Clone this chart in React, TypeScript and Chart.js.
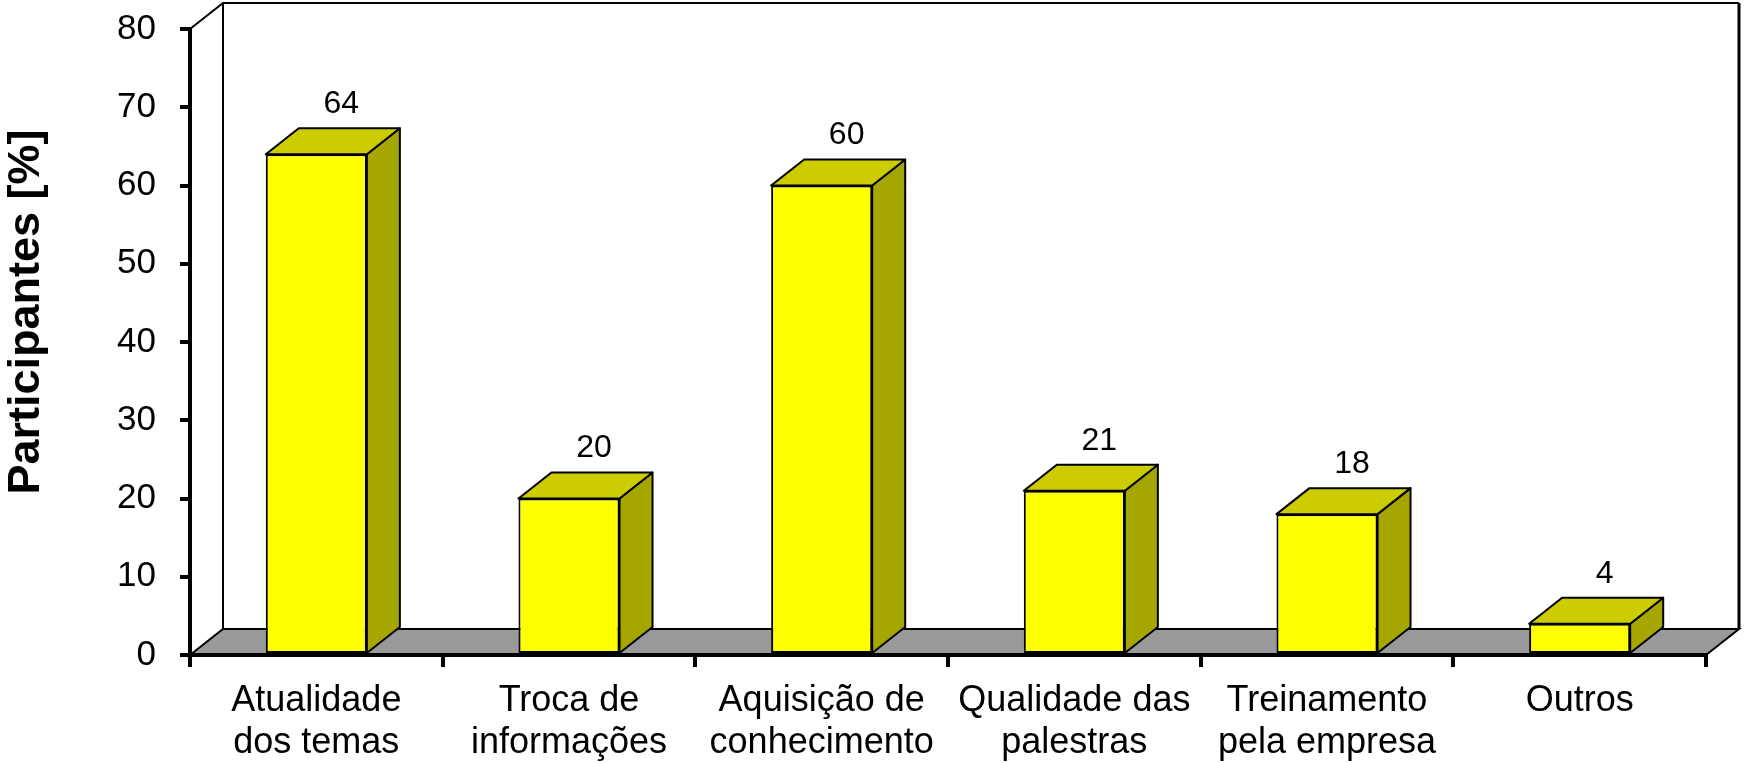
import React, { useEffect, useRef } from 'react';
import { Chart, registerables } from 'chart.js';

Chart.register(...registerables);

// ---- data ----
const categories: string[][] = [
  ['Atualidade', 'dos temas'],
  ['Troca de', 'informações'],
  ['Aquisição de', 'conhecimento'],
  ['Qualidade das', 'palestras'],
  ['Treinamento', 'pela empresa'],
  ['Outros'],
];
const participantes: number[] = [64, 20, 60, 21, 18, 4];
const valueLabels: string[] = ['64', '20', '60', '21', '18', '4'];
const yTitle = 'Participantes [%]';
const yMin = 0;
const yMax = 80;
const yStep = 10;

// ---- style ----
const FONT = "'Liberation Sans', Arial, Helvetica, sans-serif";
const DX = 33;
const DY = -26;
const FRONT = '#FFFF00';
const TOP = '#CCCC00';
const SIDE = '#A6A600';
const FLOOR = '#999999';

const threeD = {
  id: 'threeD',
  beforeDraw(chart: any) {
    const { ctx, chartArea } = chart;
    const { left, right, top, bottom } = chartArea;
    ctx.save();
    ctx.fillStyle = '#ffffff';
    ctx.fillRect(0, 0, chart.width, chart.height);
    // floor
    ctx.beginPath();
    ctx.moveTo(left, bottom);
    ctx.lineTo(left + DX, bottom + DY);
    ctx.lineTo(right + DX, bottom + DY);
    ctx.lineTo(right, bottom);
    ctx.closePath();
    ctx.fillStyle = FLOOR;
    ctx.fill();
    ctx.lineWidth = 2;
    ctx.strokeStyle = '#000';
    ctx.stroke();
    // walls outline
    ctx.lineWidth = 2;
    ctx.beginPath();
    ctx.moveTo(left, top);
    ctx.lineTo(left + DX, top + DY);
    ctx.lineTo(right + DX, top + DY);
    ctx.stroke();
    ctx.beginPath();
    ctx.moveTo(left + DX, top + DY);
    ctx.lineTo(left + DX, bottom + DY);
    ctx.stroke();
    ctx.lineWidth = 3;
    ctx.beginPath();
    ctx.moveTo(right + DX, top + DY);
    ctx.lineTo(right + DX, bottom + DY);
    ctx.stroke();
    ctx.restore();
  },
  afterDatasetsDraw(chart: any) {
    const { ctx } = chart;
    const meta = chart.getDatasetMeta(0);
    ctx.save();
    ctx.lineWidth = 2;
    ctx.strokeStyle = '#000';
    ctx.lineJoin = 'round';
    meta.data.forEach((bar: any, i: number) => {
      const { x, y, base, width } = bar.getProps(['x', 'y', 'base', 'width'], true);
      const l = x - width / 2;
      const r = x + width / 2;
      // side
      ctx.beginPath();
      ctx.moveTo(r, y);
      ctx.lineTo(r + DX, y + DY);
      ctx.lineTo(r + DX, base + DY);
      ctx.lineTo(r, base);
      ctx.closePath();
      ctx.fillStyle = SIDE;
      ctx.fill();
      ctx.stroke();
      // top
      ctx.beginPath();
      ctx.moveTo(l, y);
      ctx.lineTo(l + DX, y + DY);
      ctx.lineTo(r + DX, y + DY);
      ctx.lineTo(r, y);
      ctx.closePath();
      ctx.fillStyle = TOP;
      ctx.fill();
      ctx.stroke();
      // value label
      ctx.fillStyle = '#000';
      ctx.font = `32px ${FONT}`;
      ctx.textAlign = 'center';
      ctx.textBaseline = 'middle';
      ctx.fillText(valueLabels[i], x + 25, y + DY - 24);
    });
    ctx.restore();
  },
  afterDraw(chart: any) {
    const { ctx } = chart;
    ctx.save();
    ctx.translate(27, 312);
    ctx.rotate(-Math.PI / 2);
    ctx.fillStyle = '#000';
    ctx.font = `bold 45px ${FONT}`;
    ctx.textAlign = 'center';
    ctx.textBaseline = 'middle';
    ctx.fillText(yTitle, 0, 0);
    ctx.restore();
  },
};

export default function App() {
  const ref = useRef<HTMLCanvasElement | null>(null);
  useEffect(() => {
    if (!ref.current) return;
    const chart = new Chart(ref.current, {
      type: 'bar',
      data: {
        labels: categories,
        datasets: [
          {
            data: participantes,
            backgroundColor: FRONT,
            borderColor: '#000',
            borderWidth: 2,
            borderSkipped: false,
            barPercentage: 0.4,
            categoryPercentage: 1,
          },
        ],
      },
      options: {
        animation: false,
        responsive: true,
        maintainAspectRatio: false,
        layout: { padding: { top: 29, right: 38, left: 0, bottom: 0 } },
        plugins: { legend: { display: false }, tooltip: { enabled: false } },
        scales: {
          x: {
            offset: true,
            afterFit: (s: any) => {
              s.height = 108;
              s.paddingLeft = 0;
              s.paddingRight = 0;
            },
            border: { display: true, color: '#000', width: 4 },
            grid: {
              offset: true,
              drawOnChartArea: false,
              drawTicks: true,
              tickLength: 12,
              color: '#000',
              lineWidth: 4,
            },
            ticks: {
              color: '#000',
              padding: 13,
              maxRotation: 0,
              autoSkip: false,
              font: { family: FONT, size: 36, lineHeight: 1.17 },
            },
          },
          y: {
            min: yMin,
            max: yMax,
            afterFit: (s: any) => {
              s.width = 190;
              s.paddingTop = 0;
              s.paddingBottom = 0;
            },
            border: { display: true, color: '#000', width: 4 },
            grid: {
              drawOnChartArea: false,
              drawTicks: true,
              tickLength: 10,
              color: '#000',
              lineWidth: 4,
            },
            ticks: {
              stepSize: yStep,
              color: '#000',
              padding: 24,
              font: { family: FONT, size: 35 },
            },
          },
        },
      },
      plugins: [threeD],
    });
    return () => chart.destroy();
  }, []);
  return (
    <div style={{ position: 'fixed', left: 0, top: 0, width: 1744, height: 763, background: '#fff' }}>
      <canvas ref={ref} />
    </div>
  );
}
